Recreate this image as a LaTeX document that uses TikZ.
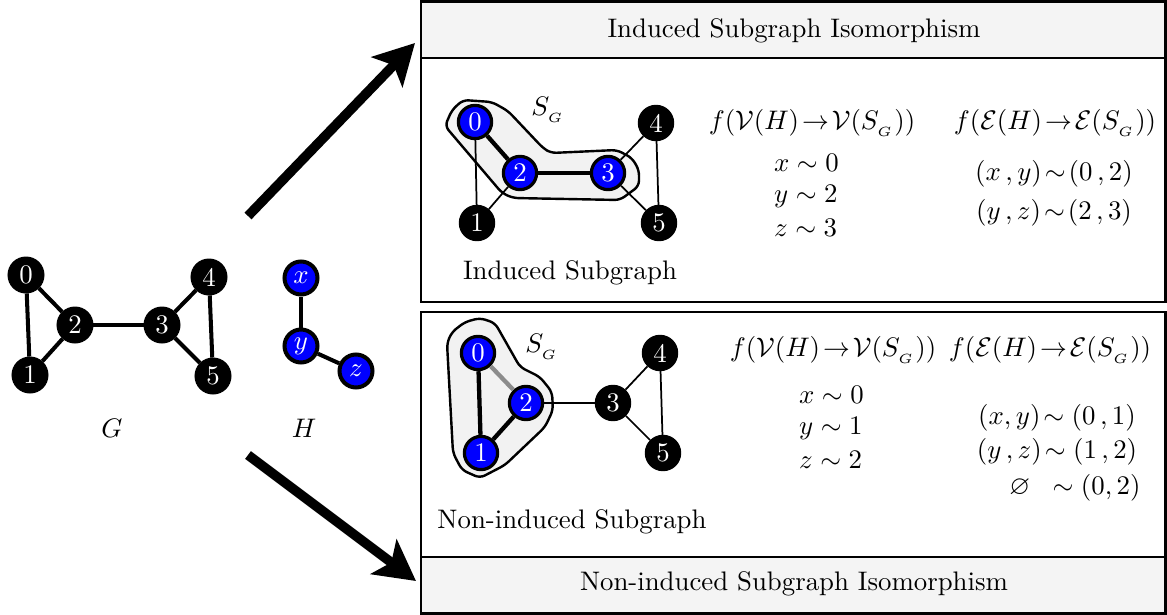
\documentclass[tikz,border=0pt]{standalone}
\usepackage{amsmath,amssymb}
\usetikzlibrary{arrows.meta}
\definecolor{boxgray}{HTML}{F4F4F4}
\definecolor{hullgray}{HTML}{F2F2F2}
\definecolor{nodeblue}{HTML}{0000FF}
\begin{document}
\begin{tikzpicture}[x=0.373pt,y=-0.373pt,
 gnode/.style={circle,fill=black,draw=black,text=white,minimum size=13.4pt,inner sep=0pt,line width=0.4pt},
 hnode/.style={circle,fill=nodeblue,draw=black,text=white,minimum size=12.3pt,inner sep=0pt,line width=1.5pt},
 pnode/.style={circle,fill=black,draw=black,text=white,minimum size=13.2pt,inner sep=0pt,line width=0.4pt},
 pblue/.style={circle,fill=nodeblue,draw=black,text=white,minimum size=12.4pt,inner sep=0pt,line width=1.2pt},
 gedge/.style={line width=1.5pt},
 thinedge/.style={line width=0.65pt},
 thickedge/.style={line width=1.6pt},
 grayedge/.style={line width=1.6pt,draw=black!45},
 panel/.style={draw=black,line width=0.8pt},
 header/.style={draw=black,fill=boxgray,line width=0.8pt},
 hull/.style={draw=black,fill=hullgray,line width=0.9pt,rounded corners=2pt},
 bigarrow/.style={line width=3.6pt,-{Stealth[length=15pt,width=16pt,inset=3.5pt]}},
 lbl/.style={inner sep=1pt},
]
\useasboundingbox (0,0) rectangle (1167,615);

% boxes
\draw[header] (421,1.5) rectangle (1165.5,58);
\draw[panel] (421,58) rectangle (1165.5,302);
\draw[panel] (421,312) rectangle (1165.5,557);
\draw[header] (421,557) rectangle (1165.5,613.5);
\node[lbl] (hdtop) at (794,31) {Induced Subgraph Isomorphism};
\node[lbl] (hdbot) at (794,584) {Non-induced Subgraph Isomorphism};

% graph G
\node[gnode] (g0) at (26,275) {0};
\node[gnode] (g1) at (30,375) {1};
\node[gnode] (g2) at (75,325) {2};
\node[gnode] (g3) at (162,325) {3};
\node[gnode] (g4) at (209,277) {4};
\node[gnode] (g5) at (213,376) {5};
\draw[gedge] (g0) -- (g1);
\draw[gedge] (g0) -- (g2);
\draw[gedge] (g1) -- (g2);
\draw[gedge] (g2) -- (g3);
\draw[gedge] (g3) -- (g4);
\draw[gedge] (g3) -- (g5);
\draw[gedge] (g4) -- (g5);
\node[lbl] (lG) at (112,428) {$G$};

% graph H
\node[hnode] (hx) at (301,278) {$x$};
\node[hnode] (hy) at (301,346) {$y$};
\node[hnode] (hz) at (356,371) {$z$};
\draw[gedge] (hx) -- (hy);
\draw[gedge] (hy) -- (hz);
\node[lbl] (lH) at (304,428) {$H$};

% arrows
\coordinate (a1s) at (248,216);
\coordinate (a1e) at (415,43);
\coordinate (a2s) at (248,455);
\coordinate (a2e) at (416,581);
\draw[bigarrow] (a1s) -- (a1e);
\draw[bigarrow] (a2s) -- (a2e);

% top panel: induced
\draw[hull] (445,126) -- (452,110) -- (463,100) -- (492,102) -- (508,111) -- (543,148) -- (551,153) -- (617,150) -- (632,158) -- (639,170) -- (639,186) -- (620,200) -- (513,198) -- (502,193) -- cycle;
\node[pblue] (a0) at (475,122) {0};
\node[pnode] (a1) at (477,223) {1};
\node[pblue] (a2) at (520,173) {2};
\node[pblue] (a3) at (608,173) {3};
\node[pnode] (a4) at (656,123) {4};
\node[pnode] (a5) at (659,223) {5};
\draw[thinedge] (a0) -- (a1);
\draw[thinedge] (a1) -- (a2);
\draw[thickedge] (a0) -- (a2);
\draw[thickedge] (a2) -- (a3);
\draw[thinedge] (a3) -- (a4);
\draw[thinedge] (a3) -- (a5);
\draw[thinedge] (a4) -- (a5);
\node[lbl] (sga) at (548,110) {$S_{_G}$};
\node[lbl] (la) at (570,273) {Induced Subgraph};

\node[lbl] (fva) at (812,123) {$f(\mathcal{V}(H)\!\rightarrow\!\mathcal{V}(S_{_G}))$};
\node[lbl,anchor=west] (va1) at (771,163) {$x\sim 0$};
\node[lbl,anchor=west] (va2) at (771,196) {$y\sim 2$};
\node[lbl,anchor=west] (va3) at (771,228) {$z\sim 3$};
\node[lbl] (fea) at (1055,123) {$f(\mathcal{E}(H)\!\rightarrow\!\mathcal{E}(S_{_G}))$};
\node[lbl] (ea1) at (1054,174) {$(x\,,y)\!\sim\!(0\,,2)$};
\node[lbl] (ea2) at (1054,213) {$(y\,,z)\!\sim\!(2\,,3)$};

% bottom panel: non-induced
\draw[hull] (452,332) -- (465,322) -- (480,318) -- (495,323) -- (520,367) -- (540,377) -- (552,392) -- (553,410) -- (545,427) -- (505,465) -- (480,478) -- (462,470) -- (453,453) -- (447,343) -- cycle;
\node[pblue] (b0) at (478,353) {0};
\node[pblue] (b1) at (481,453) {1};
\node[pblue] (b2) at (526,403) {2};
\node[pnode] (b3) at (613,403) {3};
\node[pnode] (b4) at (660,353) {4};
\node[pnode] (b5) at (663,453) {5};
\draw[thickedge] (b0) -- (b1);
\draw[thickedge] (b1) -- (b2);
\draw[grayedge] (b0) -- (b2);
\draw[thinedge] (b2) -- (b3);
\draw[thinedge] (b3) -- (b4);
\draw[thinedge] (b3) -- (b5);
\draw[thinedge] (b4) -- (b5);
\node[lbl] (sgb) at (542,347) {$S_{_G}$};
\node[lbl] (lb) at (572,522) {Non-induced Subgraph};

\node[lbl] (fvb) at (833,350) {$f(\mathcal{V}(H)\!\rightarrow\!\mathcal{V}(S_{_G}))$};
\node[lbl,anchor=west] (vb1) at (796,395) {$x\sim 0$};
\node[lbl,anchor=west] (vb2) at (796,428) {$y\sim 1$};
\node[lbl,anchor=west] (vb3) at (796,460) {$z\sim 2$};
\node[lbl] (feb) at (1050,350) {$f(\mathcal{E}(H)\!\rightarrow\!\mathcal{E}(S_{_G}))$};
\node[lbl] (eb1) at (1057,418) {$(x,y)\!\sim(0\,,1)$};
\node[lbl] (eb2) at (1057,452) {$(y\,,z)\!\sim(1\,,2)$};
\node[lbl] (eb3) at (1075,488) {$\varnothing\;\;\sim(0,2)$};
\end{tikzpicture}
\end{document}
